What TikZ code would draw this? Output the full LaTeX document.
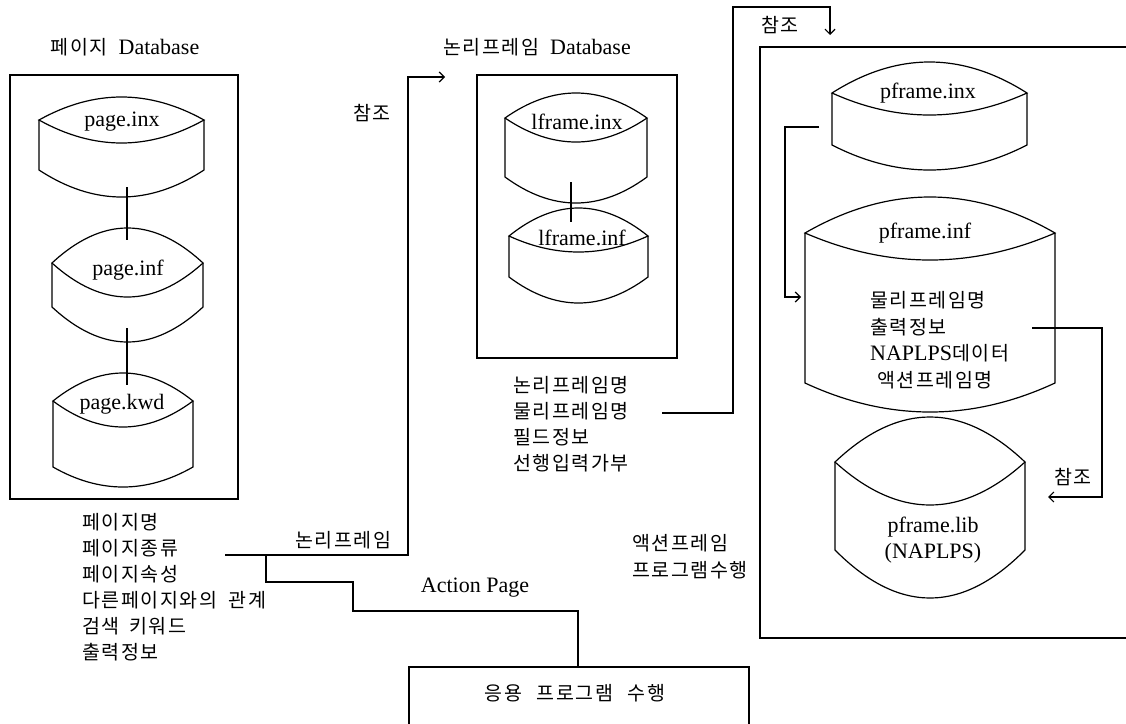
\documentclass[tikz,border=0pt]{standalone}
\usepackage{fontspec}
\setmainfont{Liberation Serif}
\newfontfamily\kr[LetterSpace=8]{Noto Sans CJK KR}
\usetikzlibrary{arrows.meta,calc}
\newcommand\hk[1]{{\kr\fontsize{19.5}{26}\selectfont #1}}
\newcommand\latn[1]{{\rmfamily\fontsize{22}{26}\selectfont #1}}
\newcommand\wsp[1]{\hspace*{#1em}}
\newcommand\dbcyl[8]{%
  \pgfmathsetmacro\dA{#2+(#3-#2)/3}%
  \pgfmathsetmacro\dB{#3-(#3-#2)/3}%
  \pgfmathsetmacro\dP{#4+4/3*(#5-#4)}%
  \pgfmathsetmacro\dQ{#4+4/3*(#6-#4)}%
  \pgfmathsetmacro\dY{#7+4/3*(#8-#7)}%
  \draw[ln] (#2,#4) .. controls (\dA,\dP) and (\dB,\dP) .. (#3,#4) .. controls (\dB,\dQ) and (\dA,\dQ) .. cycle;
  \draw[ln] (#2,#4) -- (#2,#7) .. controls (\dA,\dY) and (\dB,\dY) .. (#3,#7) -- (#3,#4);
  \coordinate (#1-top) at ({(#2+#3)/2},#5);
  \coordinate (#1-bot) at ({(#2+#3)/2},#8);
}
\tikzset{
  ln/.style={line width=1.2pt, line join=miter},
  arr/.style={ln, -{Straight Barb[length=5pt,width=10pt]}},
  lat/.style={font=\fontsize{22}{26}\selectfont, inner sep=0pt},
  kor/.style={font=\kr\fontsize{19.5}{26}\selectfont, inner sep=0pt},
  korlist/.style={kor, align=left, anchor=north west},
}
\begin{document}
\begin{tikzpicture}[x=1pt,y=-1pt]
\useasboundingbox (0,0) rectangle (1126,723);

% ---------- left: page database ----------
\node[lat] (t1) at (125,47) {\hk{페이지}\ \ Database};
\draw[ln] (10,75) rectangle (238,499);
\dbcyl{c1}{39}{204}{120}{97}{143}{170}{197}
\node[lat] (n1) at (122,122) {page.inx};
\dbcyl{c2}{52}{203}{263}{228}{297}{307}{342}
\node[lat] (n2) at (128,270) {page.inf};
\dbcyl{c3}{53}{193}{401}{373}{427}{467}{487}
\node[lat] (n3) at (122,404) {page.kwd};
\coordinate (k1) at (127,187); \coordinate (k2) at (127,240);
\coordinate (k3) at (127,328); \coordinate (k4) at (127,385);
\draw[ln] (k1) -- (k2);
\draw[ln] (k3) -- (k4);

\node[korlist] (pf) at (82,513) {페이지명\\페이지종류\\페이지속성\\다른페이지와의\wsp{0.6}관계\\검색\wsp{0.5}키워드\\출력정보};

\coordinate (p1) at (225,555);
\coordinate (p2) at (445,77);
\draw[arr] (p1) -- (408,555) -- (408,77) -- (p2);
\node[kor] (l1) at (343,540) {논리프레임};
\node[kor] (l2) at (372,113) {참조};

\coordinate (q1) at (266,555);
\coordinate (q2) at (578,667);
\draw[ln] (q1) -- (266,582) -- (353,582) -- (353,611) -- (578,611) -- (q2);
\node[lat] (ap) at (475,588) {Action Page};

\draw[ln] (409,724) -- (409,667) -- (749,667) -- (749,724);
\node[kor] (app) at (575,693) {응용\wsp{0.75}프로그램\wsp{0.75}수행};

% ---------- middle: logical frame database ----------
\node[lat] (t2) at (537,47) {\hk{논리프레임}\ \ Database};
\draw[ln] (477,75) rectangle (677,358);
\dbcyl{m1}{505}{647}{118}{93}{142}{177}{203}
\node[lat] (n4) at (577,122) {lframe.inx};
\dbcyl{m2}{509}{648}{236}{208}{252}{277}{303}
\node[lat] (n5) at (582,238) {lframe.inf};
\coordinate (k5) at (571,182); \coordinate (k6) at (571,222);
\draw[ln] (k5) -- (k6);

\node[korlist] (lf) at (513,376) {논리프레임명\\물리프레임명\\필드정보\\선행입력가부};
\coordinate (r0) at (662,413);
\coordinate (r9) at (830,35);
\draw[arr] (r0) -- (733,413) -- (733,7) -- (830,7) -- (r9);
\node[kor] (l3) at (780,25) {참조};

% ---------- right: physical frame ----------
\draw[ln] (1130,47) -- (760,47) -- (760,638) -- (1130,638);
\dbcyl{r1}{832}{1027}{93}{62}{115}{145}{170}
\node[lat] (n6) at (928,93) {pframe.inx};
\dbcyl{r2}{805}{1055}{233}{197}{260}{383}{412}
\node[lat] (n7) at (925,233) {pframe.inf};
\node[kor, anchor=west] (f1) at (870,300) {물리프레임명};
\node[kor, anchor=west] (f2) at (870,327) {출력정보};
\node[kor, anchor=west] (f3) at (870,353) {\latn{NAPLPS}데이터};
\node[kor, anchor=west] (f4) at (877,380) {액션프레임명};
\coordinate (s1) at (819,127); \coordinate (s2) at (801,297);
\draw[arr] (s1) -- (785,127) -- (785,297) -- (s2);
\coordinate (u1) at (1032,328); \coordinate (u2) at (1048,497);
\draw[arr] (u1) -- (1102,328) -- (1102,497) -- (u2);
\node[kor] (l4) at (1073,477) {참조};
\dbcyl{r3}{835}{1025}{462}{417}{505}{550}{598}
\node[lat] (n8) at (933,527) {pframe.lib};
\node[lat] (n9) at (933,553) {(NAPLPS)};
\node[kor, anchor=west] (g1) at (632,543) {액션프레임};
\node[kor, anchor=west] (g2) at (632,570) {프로그램수행};
\end{tikzpicture}
\end{document}
